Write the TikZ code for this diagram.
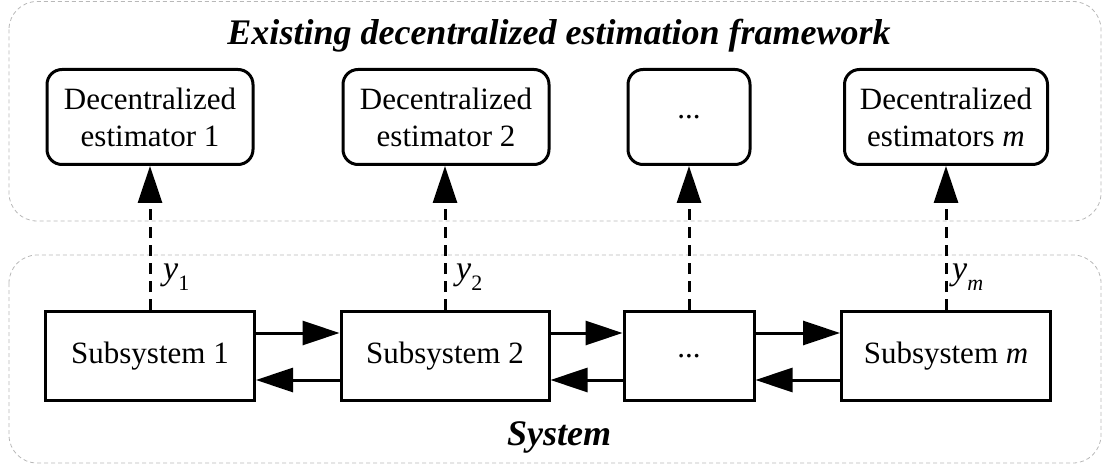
\documentclass[tikz,border=0pt]{standalone}
\usepackage{fontspec}
\setmainfont{Liberation Serif}
\usetikzlibrary{arrows.meta}
% lowered subscript for the measurement labels
\newcommand\sigsub[1]{\raisebox{-0.33em}{\fontsize{22}{22}\selectfont #1}}
\begin{document}
\begin{tikzpicture}[x=1pt,y=-1pt,
  panel/.style={draw=black!28, line width=0.8pt, dash pattern=on 4pt off 3pt, rounded corners=28pt},
  estbox/.style={draw, line width=3pt, rounded corners=15pt, minimum height=95pt, inner sep=0pt,
                 align=center, font=\fontsize{31}{37}\selectfont},
  subbox/.style={draw, line width=3pt, minimum height=89pt, inner sep=0pt,
                 font=\fontsize{31}{37}\selectfont},
  link/.style={line width=3pt, -{Triangle[length=37pt,width=24pt]}},
  meas/.style={link, dash pattern=on 11pt off 7pt},
  heading/.style={font=\fontsize{36}{40}\selectfont\bfseries\itshape, anchor=base, inner sep=0pt},
  sig/.style={anchor=base west, inner sep=0pt, font=\fontsize{34}{36}\selectfont\itshape}
]
\useasboundingbox (0,0) rectangle (1103,465);

% dashed frames
\draw[panel] (9,1.5) rectangle (1101,221);
\draw[panel] (9,255) rectangle (1101,463);

\node[heading] (title) at (559,45) {Existing decentralized estimation framework};
\node[heading] (sys) at (559,445) {System};

% estimators
\node[estbox, minimum width=206pt] (e1) at (150,117) {Decentralized\\estimator 1};
\node[estbox, minimum width=206pt] (e2) at (446,117) {Decentralized\\estimator 2};
\node[estbox, minimum width=122pt] (e3) at (689,117) {...};
\node[estbox, minimum width=203pt] (e4) at (946,117) {Decentralized\\estimators \textit{m}};

% subsystems
\node[subbox, minimum width=209pt] (s1) at (150,356) {Subsystem 1};
\node[subbox, minimum width=208pt] (s2) at (445,356) {Subsystem 2};
\node[subbox, minimum width=130pt] (s3) at (689,356) {...};
\node[subbox, minimum width=209pt] (s4) at (946,356) {Subsystem \textit{m}};

% measurements sent up to the estimators
\foreach \i in {1,2,3,4}
  \draw[meas] (s\i.north) -- (s\i.north |- e\i.south);

\node[sig] (y1) at (163,279) {y\sigsub{\upshape 1}};
\node[sig] (y2) at (456,279) {y\sigsub{\upshape 2}};
\node[sig] (ym) at (952,279) {y\sigsub{m}};

% coupling between neighbouring subsystems
\foreach \a/\b in {s1/s2,s2/s3,s3/s4} {
  \draw[link] ([yshift=23pt]\a.east) -- ([yshift=23pt]\b.west);
  \draw[link] ([yshift=-24pt]\b.west) -- ([yshift=-24pt]\a.east);
}
\end{tikzpicture}
\end{document}
